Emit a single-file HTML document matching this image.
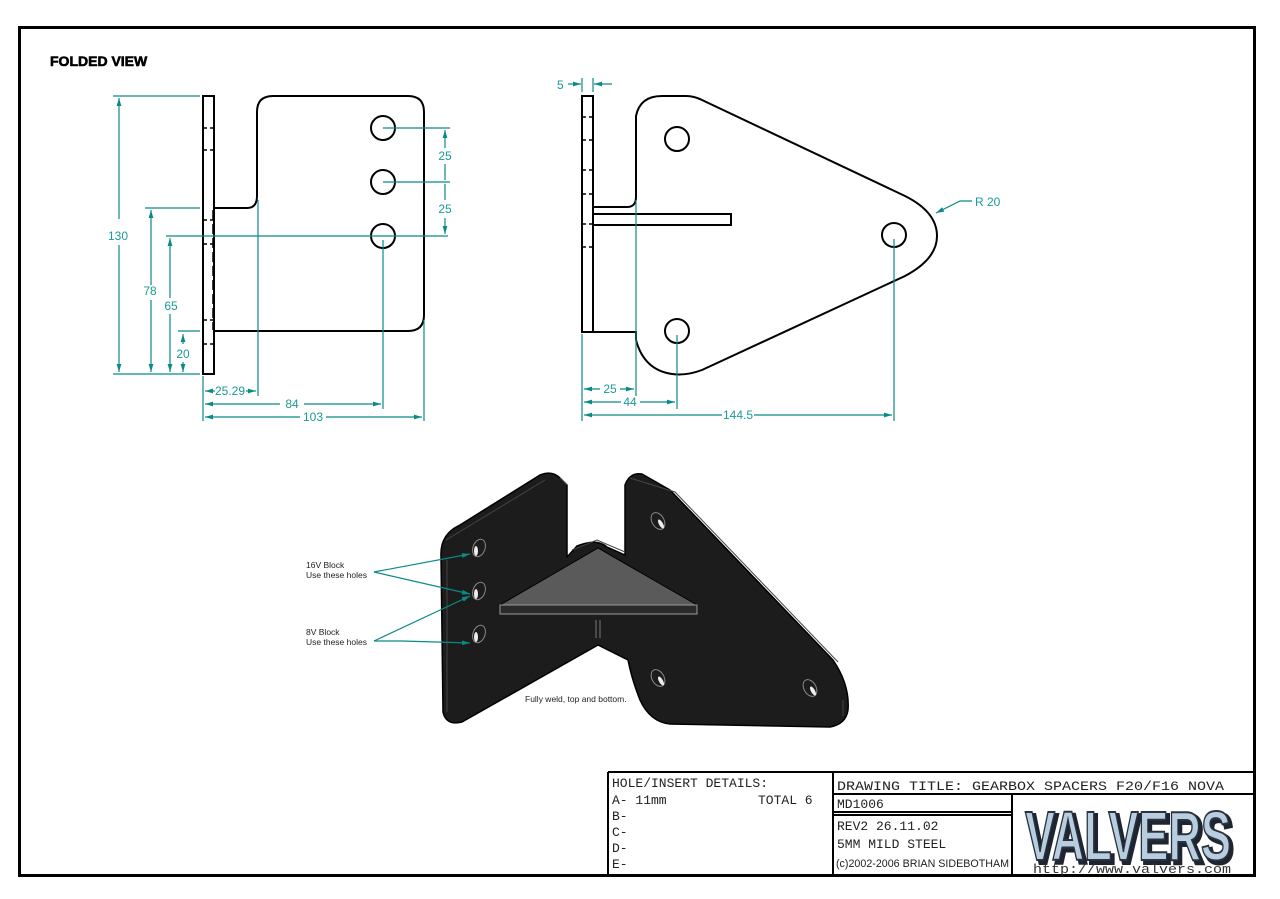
<!DOCTYPE html>
<html><head><meta charset="utf-8"><style>
html,body{margin:0;padding:0;background:#fff;width:1280px;height:899px;overflow:hidden}
svg{display:block}
.d{stroke:#0a8a86;stroke-width:1.2;fill:none}
.t{fill:#1a9a96;font-family:"Liberation Sans",sans-serif;font-size:12px}
.k{stroke:#000;stroke-width:2;fill:none}
.m{font-family:"Liberation Mono",monospace;font-size:13px;fill:#222}
</style></head><body>
<svg width="1280" height="899" viewBox="0 0 1280 899" xmlns="http://www.w3.org/2000/svg">
<defs>
<marker id="a" viewBox="0 0 10 6" refX="10" refY="3" markerWidth="8" markerHeight="4" orient="auto-start-reverse"><path d="M0,0L10,3L0,6z" fill="#0a8a86"/></marker>
</defs>
<rect x="19.5" y="27.5" width="1235" height="848" fill="none" stroke="#000" stroke-width="3"/>
<text x="50" y="66" font-family="Liberation Sans,sans-serif" font-weight="bold" font-size="14" stroke="#000" stroke-width="0.6">FOLDED VIEW</text>

<!-- LEFT VIEW -->
<rect x="203" y="96" width="11" height="278" class="k"/>
<path class="k" d="M214,208 L247,208 Q257,208 257,196 L257,112 Q257,96 273,96 L408,96 Q424,96 424,112 L424,315 Q424,331 408,331 L214,331"/>
<g stroke="#000" stroke-width="1.5">
<path d="M204,128h3M210,128h3M204,150h3M210,150h3M204,220h3M210,220h3M204,244h3M210,244h3M204,320h3M210,320h3M204,344h3M210,344h3" />
<path d="M213,210v120" stroke-dasharray="10,4"/>
</g>
<circle cx="383" cy="128" r="12" class="k"/><circle cx="383" cy="182" r="12" class="k"/><circle cx="383" cy="236" r="12" class="k"/>
<g class="d">
<path d="M113,96h87M145,208h55M166,236h282M178,331h22M113,374h87"/>
<path d="M383,128h67M383,182h67"/>
<path d="M119,98v121M119,245v127" marker-start="url(#a)" marker-end="url(#a)"/>
<path d="M151,210v75M151,300v72" marker-start="url(#a)" marker-end="url(#a)"/>
<path d="M170,238v60M170,314v58" marker-start="url(#a)" marker-end="url(#a)"/>
<path d="M183,334v10M183,362v10" marker-start="url(#a)" marker-end="url(#a)"/>
<path d="M445,130v18M445,164v16M445,184v16M445,218v16" marker-start="url(#a)" marker-end="url(#a)"/>
<path d="M203,376v45M258,200v196M383,240v169M424,320v101"/>
<path d="M205,391h10" marker-start="url(#a)"/><path d="M256,391h-10" marker-start="url(#a)"/>
<path d="M205,404h75M304,404h77" marker-start="url(#a)" marker-end="url(#a)"/>
<path d="M205,417h95M326,417h96" marker-start="url(#a)" marker-end="url(#a)"/>
</g>
<g class="t" text-anchor="middle">
<text x="118" y="240">130</text><text x="150" y="295">78</text><text x="171" y="310">65</text><text x="183" y="358">20</text>
<text x="445" y="160">25</text><text x="445" y="213">25</text>
<text x="230" y="395">25.29</text><text x="292" y="408">84</text><text x="313" y="421">103</text>
</g>

<!-- RIGHT VIEW -->
<rect x="582" y="96" width="11" height="236" class="k"/>
<path class="k" d="M593,207 L627,207 Q636,207 636,197 L636,116 Q640,96 662,96 L686,96 Q694,96 702,100 L905,196 Q937,212 937,236 Q937,259 905,276 L702,370 Q686,376 672,374 Q644,370 636,340 L636,332 L593,332"/>
<rect x="593" y="214" width="138" height="11" class="k"/>
<g stroke="#000" stroke-width="1.5"><path d="M583,117h3M589,117h3M583,140h3M589,140h3M583,170h3M589,170h3M583,194h3M589,194h3M583,224h3M589,224h3M583,247h3M589,247h3"/></g>
<circle cx="677" cy="139" r="12" class="k"/><circle cx="677" cy="331" r="12" class="k"/><circle cx="894" cy="235" r="12" class="k"/>
<g class="d">
<path d="M582,78v14M593,78v14"/>
<path d="M568,84h13" marker-end="url(#a)"/><path d="M612,84h-18" marker-end="url(#a)"/>
<path d="M582,334v87M636,200v196M677,335v74M894,239v182"/>
<path d="M584,389h16M620,389h14" marker-start="url(#a)" marker-end="url(#a)"/>
<path d="M584,402h37M640,402h35" marker-start="url(#a)" marker-end="url(#a)"/>
<path d="M584,415h138M754,415h138" marker-start="url(#a)" marker-end="url(#a)"/>
<path d="M972,201h-12l-24,12" marker-end="url(#a)"/>
</g>
<g class="t">
<text x="557" y="89">5</text>
<text x="610" y="393" text-anchor="middle">25</text><text x="630" y="406" text-anchor="middle">44</text><text x="738" y="419" text-anchor="middle">144.5</text>
<text x="975" y="206">R 20</text>
</g>

<!-- ISO VIEW -->
<g fill="#1c1c1c" stroke="#000" stroke-width="1.5" stroke-linejoin="round">
<path d="M441,556 Q440,534 460,525 L540,475 Q552,470 560,478 L567,485 L567,557 L577,546 Q597,538 607,547 L625,555 L625,485 Q630,472 642,474 L670,490 L833,660 Q850,685 848,710 Q846,724 830,727 L670,724 Q650,722 640,700 Q632,680 628,660 L598,645 L462,722 Q446,726 443,712 Z"/>
</g>
<g fill="none" stroke="#444" stroke-width="1">
<path d="M446,540 L545,480 M560,478 L567,485 M630,478 L675,492 L838,662 M843,700 L843,716 M447,560 L447,712"/>
<path d="M572,550 L597,540 L625,552"/>
</g>
<path d="M500,605 L598,548 L697,605 Z" fill="#5a5a5a" stroke="#000" stroke-width="1"/>
<rect x="500" y="605" width="197" height="9" fill="#2a2a2a" stroke="#999" stroke-width="1"/>
<path d="M596,620v18M600,620v18" stroke="#777" stroke-width="1"/>
<g fill="#1c1c1c" stroke="#888" stroke-width="1">
<ellipse cx="479" cy="548" rx="6" ry="9" transform="rotate(20 479 548)"/>
<ellipse cx="479" cy="591" rx="6" ry="9" transform="rotate(20 479 591)"/>
<ellipse cx="479" cy="634" rx="6" ry="9" transform="rotate(20 479 634)"/>
<ellipse cx="658" cy="521" rx="6" ry="9" transform="rotate(-30 658 521)"/>
<ellipse cx="658" cy="678" rx="6" ry="9" transform="rotate(-30 658 678)"/>
<ellipse cx="810" cy="688" rx="6" ry="9" transform="rotate(-30 810 688)"/>
</g>
<g fill="#eee"><ellipse cx="476" cy="551" rx="2" ry="5"/><ellipse cx="476" cy="594" rx="2" ry="5"/><ellipse cx="476" cy="637" rx="2" ry="5"/>
<ellipse cx="661" cy="524" rx="2" ry="5" transform="rotate(-30 661 524)"/><ellipse cx="661" cy="681" rx="2" ry="5" transform="rotate(-30 661 681)"/><ellipse cx="813" cy="691" rx="2" ry="5" transform="rotate(-30 813 691)"/></g>
<g class="d" stroke-width="1.5">
<path d="M374,572 L470,554" marker-end="url(#a)"/><path d="M374,572 L470,594" marker-end="url(#a)"/>
<path d="M374,641 L470,596" marker-end="url(#a)"/><path d="M374,641 L402,641 L470,643" marker-end="url(#a)"/>
</g>
<g font-family="Liberation Sans,sans-serif" font-size="8.5" fill="#222">
<text x="306" y="568">16V Block</text><text x="306" y="578">Use these holes</text>
<text x="306" y="635">8V Block</text><text x="306" y="645">Use these holes</text>
<text x="525" y="702">Fully weld, top and bottom.</text>
</g>

<!-- TITLE BLOCK -->
<g stroke="#000" stroke-width="2" fill="none">
<path d="M608,772H1254M608,772V876M833,772V876M833,794H1254M1012,794V876M833,812H1012M833,815H1012"/>
</g>
<g class="m">
<text x="612" y="787">HOLE/INSERT DETAILS:</text>
<text x="612" y="804">A- 11mm</text><text x="758" y="804">TOTAL 6</text>
<text x="612" y="820">B-</text><text x="612" y="836">C-</text><text x="612" y="852">D-</text><text x="612" y="868">E-</text>
<text x="837" y="790" textLength="387" lengthAdjust="spacingAndGlyphs">DRAWING TITLE: GEARBOX SPACERS F20/F16 NOVA</text>
<text x="837" y="808">MD1006</text>
<text x="837" y="830">REV2 26.11.02</text>
<text x="837" y="848">5MM MILD STEEL</text>
</g>
<text x="836" y="867" font-family="Liberation Sans Narrow,Liberation Sans,sans-serif" font-size="11" fill="#222" textLength="173" lengthAdjust="spacingAndGlyphs">(c)2002-2006 BRIAN SIDEBOTHAM</text>
<text x="1128" y="860" text-anchor="middle" font-family="Liberation Sans,sans-serif" font-weight="bold" font-size="70" fill="#1e2530" stroke="#1e2530" stroke-width="4" transform="translate(3,3)" textLength="206" lengthAdjust="spacingAndGlyphs">VALVERS</text>
<text x="1128" y="860" text-anchor="middle" font-family="Liberation Sans,sans-serif" font-weight="bold" font-size="70" fill="#b8cde0" stroke="#2a3440" stroke-width="2" textLength="206" lengthAdjust="spacingAndGlyphs">VALVERS</text>
<text x="1033" y="873" font-family="Liberation Mono,monospace" font-size="13" fill="#333" textLength="198" lengthAdjust="spacingAndGlyphs">http://www.valvers.com</text>
</svg>
</body></html>
